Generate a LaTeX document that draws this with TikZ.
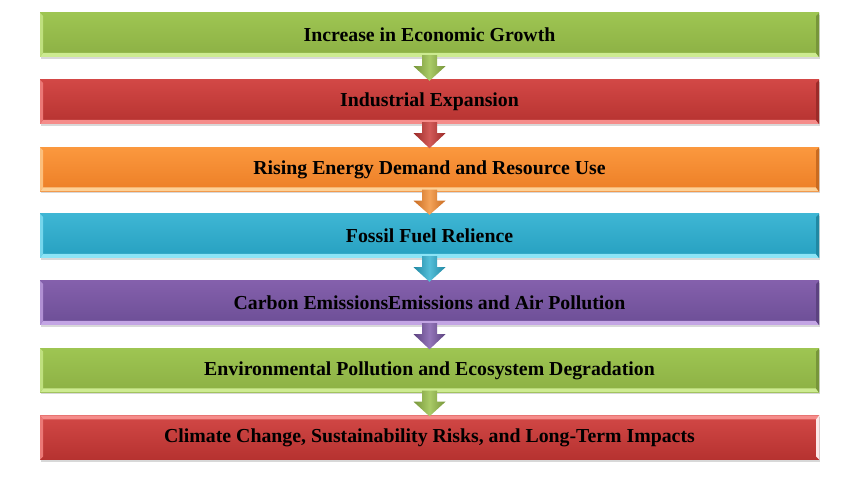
\documentclass[tikz,border=0pt]{standalone}
\usepackage{fontspec}
\setmainfont{Liberation Serif}
\usetikzlibrary{shadows,calc}
\definecolor{gTop}{RGB}{158,197,82}\definecolor{gBot}{RGB}{140,176,68}\definecolor{gLt}{RGB}{205,235,145}
\definecolor{rTop}{RGB}{210,72,70}\definecolor{rBot}{RGB}{182,50,48}\definecolor{rLt}{RGB}{245,140,138}
\definecolor{oTop}{RGB}{251,152,62}\definecolor{oBot}{RGB}{236,126,38}\definecolor{oLt}{RGB}{253,208,150}
\definecolor{cTop}{RGB}{62,182,212}\definecolor{cBot}{RGB}{38,160,192}\definecolor{cLt}{RGB}{140,228,246}
\definecolor{pTop}{RGB}{132,96,172}\definecolor{pBot}{RGB}{108,78,150}\definecolor{pLt}{RGB}{195,165,228}
\tikzset{
  box/.style n args={3}{minimum width=779pt, minimum height=44pt, inner sep=0pt,
    top color=#1, bottom color=#2, font=\fontsize{19.8}{22}\selectfont\bfseries, text=black,
    drop shadow={shadow xshift=1pt, shadow yshift=-2pt, opacity=0.25, fill=black!60},
    path picture={
      \fill[#3] (path picture bounding box.south west) -- ++(3pt,4pt) -- ([xshift=-3pt,yshift=4pt]path picture bounding box.south east) -- (path picture bounding box.south east) -- cycle;
      \fill[#3!70!#1] (path picture bounding box.south west) -- ++(3pt,4pt) -- ([xshift=3pt,yshift=-3pt]path picture bounding box.north west) -- (path picture bounding box.north west) -- cycle;
      \fill[#2!85!black] (path picture bounding box.south east) -- ++(-3pt,4pt) -- ([xshift=-3pt,yshift=-3pt]path picture bounding box.north east) -- (path picture bounding box.north east) -- cycle;
    }},
  boxtop/.style n args={3}{minimum width=779pt, minimum height=44pt, inner sep=0pt,
    top color=#1, bottom color=#2, font=\fontsize{19.8}{22}\selectfont\bfseries, text=black,
    drop shadow={shadow xshift=1pt, shadow yshift=-2pt, opacity=0.25, fill=black!60},
    path picture={
      \fill[#3] (path picture bounding box.north west) -- ++(3pt,-4pt) -- ([xshift=-3pt,yshift=-4pt]path picture bounding box.north east) -- (path picture bounding box.north east) -- cycle;
      \fill[#3!70!#1] (path picture bounding box.north west) -- ++(3pt,-4pt) -- ([xshift=3pt,yshift=3pt]path picture bounding box.south west) -- (path picture bounding box.south west) -- cycle;
      \fill[white!80!#3] (path picture bounding box.north east) -- ++(-3pt,-4pt) -- ([xshift=-3pt,yshift=3pt]path picture bounding box.south east) -- (path picture bounding box.south east) -- cycle;
    }},
}
\newcommand{\flowarrow}[4]{%
  \shade[left color=#3!85!black, right color=#3!85!black, middle color=#4!45!#3]
    ([xshift=-7.5pt,yshift=2pt]#1.south) -- ([xshift=-7.5pt,yshift=-9pt]#1.south)
    -- ([xshift=-16pt,yshift=-9pt]#1.south) -- ([yshift=-1pt]#2.north)
    -- ([xshift=16pt,yshift=-9pt]#1.south) -- ([xshift=7.5pt,yshift=-9pt]#1.south)
    -- ([xshift=7.5pt,yshift=2pt]#1.south) -- cycle;}
\begin{document}
\begin{tikzpicture}[x=1pt,y=-1pt]
\useasboundingbox[fill=white] (0,0) rectangle (852,478);
\node[box={gTop}{gBot}{gLt}] (b1) at (429.5,35) {Increase in Economic Growth};
\node[box={rTop}{rBot}{rLt}] (b2) at (429.5,102) {Industrial Expansion};
\node[box={oTop}{oBot}{oLt}] (b3) at (429.5,169.5) {Rising Energy Demand and Resource Use};
\node[box={cTop}{cBot}{cLt}] (b4) at (429.5,236) {Fossil Fuel Relience};
\node[box={pTop}{pBot}{pLt}] (b5) at (429.5,303) {Carbon EmissionsEmissions and Air Pollution};
\node[box={gTop}{gBot}{gLt}] (b6) at (429.5,370.5) {Environmental Pollution and Ecosystem Degradation};
\node[boxtop={rTop}{rBot}{rLt}] (b7) at (429.5,437.5) {Climate Change, Sustainability Risks, and Long-Term Impacts};
\flowarrow{b1}{b2}{gBot}{gLt}
\flowarrow{b2}{b3}{rBot}{rLt}
\flowarrow{b3}{b4}{oBot}{oLt}
\flowarrow{b4}{b5}{cBot}{cLt}
\flowarrow{b5}{b6}{pBot}{pLt}
\flowarrow{b6}{b7}{gBot}{gLt}
\end{tikzpicture}
\end{document}
